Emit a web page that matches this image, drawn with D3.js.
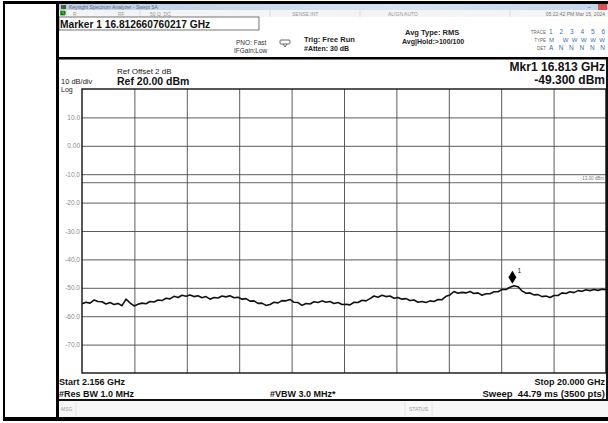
<!DOCTYPE html>
<html><head><meta charset="utf-8">
<script src="https://cdn.jsdelivr.net/npm/d3@7"></script>
<style>
html,body{margin:0;padding:0;background:#fff;}
svg{display:block;font-family:"Liberation Sans",Arial,sans-serif;}
text{white-space:pre;}
</style></head>
<body>
<svg id="c" width="608" height="423"></svg>
<script>
// ---- data ----
const startGHz = 2.156;
const stopGHz = 20.0;
const refLevel = 20;
const bottomLevel = -80;
const yTickValues = [10, 0, -10, -20, -30, -40, -50, -60, -70];
const yTickLabels = ["10.0", "0.00", "-10.0", "-20.0", "-30.0", "-40.0", "-50.0", "-60.0", "-70.0"];
const displayLine = -13;
const markerFreq = 16.813;
const markerLevel = -49.3;
// trace levels (dBm), evenly spaced across the sweep
const traceLevels = [
-55.6,-55.1,-55.4,-54.3,-54.8,-54.9,-55.7,-55.2,-55.9,-55.5,
-56.3,-54.0,-55.3,-56.4,-55.8,-55.4,-55.6,-54.8,-55.0,-54.3,
-54.5,-53.7,-53.9,-53.0,-53.4,-52.6,-53.0,-52.5,-53.1,-52.8,
-53.5,-53.1,-54.0,-53.4,-53.6,-52.9,-53.2,-52.8,-53.5,-53.3,
-54.0,-53.8,-54.7,-54.6,-55.5,-55.4,-56.2,-55.9,-55.1,-55.3,
-54.5,-54.6,-54.1,-55.1,-55.2,-56.2,-55.5,-55.7,-54.9,-55.2,
-54.6,-55.1,-54.8,-55.5,-55.2,-55.9,-55.8,-56.0,-55.1,-55.2,
-54.4,-54.6,-53.8,-52.9,-53.3,-52.6,-53.1,-52.9,-53.7,-53.4,
-54.0,-53.8,-54.5,-54.3,-55.1,-54.8,-55.2,-54.6,-54.8,-54.1,
-54.2,-53.0,-52.5,-51.3,-51.9,-51.6,-51.8,-51.3,-52.0,-51.8,
-52.6,-52.1,-52.1,-51.4,-51.4,-50.6,-50.6,-49.8,-49.3,-49.6,
-51.1,-51.9,-51.8,-52.5,-52.4,-53.1,-52.9,-53.4,-52.7,-52.7,
-51.8,-52.0,-51.4,-51.7,-51.0,-51.2,-50.7,-51.0,-50.6,-50.9,
-50.5,-50.7
];

// ---- layout ----
const svg = d3.select("#c");
const P = {l: 82, r: 606, t: 89, b: 373};
const x = d3.scaleLinear().domain([startGHz, stopGHz]).range([P.l, P.r]);
const y = d3.scaleLinear().domain([bottomLevel, refLevel]).range([P.b, P.t]);

svg.append("rect").attr("x",0).attr("y",0).attr("width",608).attr("height",423).attr("fill","#fff");
// title bar
const grad = svg.append("defs").append("linearGradient").attr("id","tb").attr("x1",0).attr("x2",1);
grad.append("stop").attr("offset","0%").attr("stop-color","#b9cde4");
grad.append("stop").attr("offset","60%").attr("stop-color","#d6e3f1");
grad.append("stop").attr("offset","100%").attr("stop-color","#c4d6ea");
svg.append("rect").attr("x",58).attr("y",4).attr("width",550).attr("height",6).attr("fill","url(#tb)");
svg.append("rect").attr("x",61).attr("y",5).attr("width",5).attr("height",4).attr("fill","#4a5e3a");
svg.append("text").attr("x",69).attr("y",9).attr("font-size",5).attr("fill","#667").text("Keysight Spectrum Analyzer - Swept SA");
svg.append("rect").attr("x",598).attr("y",4).attr("width",9).attr("height",6).attr("fill","#d9534f");
svg.append("text").attr("x",588).attr("y",9).attr("font-size",5).attr("fill","#556").text("–");
// status row
svg.append("rect").attr("x",58).attr("y",10).attr("width",550).attr("height",7).attr("fill","#f4f4f4");
svg.append("rect").attr("x",60).attr("y",10.5).attr("width",5).attr("height",5).attr("fill","#2db52d");
svg.append("text").attr("x",61).attr("y",15).attr("font-size",4.5).attr("fill","#000").text("LX");
const statusTexts = [[73,"R"],[118,"RF"],[150,"50 Ω  DC"],[292,"SENSE:INT"],[388,"ALIGN AUTO"]];
statusTexts.forEach(d=>svg.append("text").attr("x",d[0]).attr("y",15.5).attr("font-size",5).attr("fill","#999").text(d[1]));
svg.append("text").attr("x",605).attr("y",15.5).attr("font-size",5).attr("fill","#777").attr("text-anchor","end").text("05:22:42 PM Mar 15, 2024");
[[140],[170],[270],[360],[510]].forEach(d=>svg.append("line").attr("x1",d[0]).attr("x2",d[0]).attr("y1",10).attr("y2",17).attr("stroke","#ccc").attr("stroke-width",0.6));

// marker box
svg.append("rect").attr("x",59).attr("y",17).attr("width",200).attr("height",13).attr("fill","#fff").attr("stroke","#555").attr("stroke-width",0.8);
svg.append("text").attr("x",60).attr("y",27.5).attr("font-size",10.2).attr("font-weight","bold").attr("fill","#111").text("Marker 1 16.812660760217 GHz");

// settings
const small = (xx,yy,t,fs,fw,anchor,col)=>svg.append("text").attr("x",xx).attr("y",yy).attr("font-size",fs).attr("font-weight",fw||"normal").attr("text-anchor",anchor||"start").attr("fill",col||"#222").text(t);
small(236,45,"PNO: Fast",6.5,"normal","start","#333");
small(234,53,"IFGain:Low",6.5,"normal","start","#333");
svg.append("rect").attr("x",280).attr("y",40).attr("width",10).attr("height",4).attr("fill","none").attr("stroke","#444").attr("stroke-width",0.8).attr("rx",1);
svg.append("path").attr("d","M283,44 L285,47 L287,44").attr("fill","none").attr("stroke","#444").attr("stroke-width",0.8);
small(304,42,"Trig: Free Run",7.5,"bold","start","#222");
small(304,51,"#Atten: 30 dB",7,"bold","start","#222");
small(405,35,"Avg Type: RMS",7.5,"bold","start","#222");
small(402,44,"Avg|Hold:>100/100",7,"bold","start","#222");
small(546,34,"TRACE",4.5,"normal","end","#666");
small(546,42,"TYPE",4.5,"normal","end","#666");
small(546,50,"DET",4.5,"normal","end","#666");
small(549,34,"1 2 3 4 5 6",6.5,"normal","start","#3a6fb0").attr("textLength",56);
small(549,42,"M WWWWW",6,"normal","start","#3a6fb0").attr("textLength",56);
small(549,50,"A N N N N N",6.5,"normal","start","#3a6fb0").attr("textLength",56);

// separator
svg.append("rect").attr("x",58).attr("y",57).attr("width",550).attr("height",2.5).attr("fill","#000");

// marker readout
small(605,71,"Mkr1 16.813 GHz",12,"bold","end","#111");
small(605,84,"-49.300 dBm",12,"bold","end","#111");
// ref
small(117,74,"Ref Offset 2 dB",8,"normal","start","#222");
small(117,85,"Ref 20.00 dBm",10.5,"bold","start","#111");
small(61,83.5,"10 dB/div",7.5,"normal","start","#222");
small(61,92,"Log",7,"normal","start","#222");

// ---- plot ----
const g = svg.append("g");
g.append("rect").attr("x",P.l).attr("y",P.t).attr("width",P.r-P.l).attr("height",P.b-P.t).attr("fill","#fff");

// horizontal grid + y labels
const yAxis = d3.axisLeft(y).tickValues(yTickValues).tickSize(-(P.r-P.l)).tickPadding(2)
  .tickFormat((d,i)=>yTickLabels[i]);
const ya = g.append("g").attr("transform",`translate(${P.l},0)`).call(yAxis);
ya.select(".domain").remove();
ya.selectAll(".tick line").attr("stroke","#4a4a4a").attr("stroke-width",0.9);
ya.selectAll(".tick text").attr("font-size",6.5).attr("fill","#8a8a8a").attr("font-family","'Liberation Sans',Arial,sans-serif");

// vertical grid
const xDivs = d3.range(1,10).map(i=>startGHz + i*(stopGHz-startGHz)/10);
const xAxis = d3.axisBottom(x).tickValues(xDivs).tickSize(-(P.b-P.t)).tickFormat("");
const xa = g.append("g").attr("transform",`translate(0,${P.b})`).call(xAxis);
xa.select(".domain").remove();
xa.selectAll(".tick line").attr("stroke","#4a4a4a").attr("stroke-width",0.9);

// display line
g.append("line").attr("x1",P.l).attr("x2",P.r).attr("y1",y(displayLine)).attr("y2",y(displayLine)).attr("stroke","#555").attr("stroke-width",0.9);
small(P.r-2, y(displayLine)-2.5, "-13.00 dBm", 4.5, "normal","end","#777");

// border
g.append("rect").attr("x",P.l).attr("y",P.t).attr("width",P.r-P.l).attr("height",P.b-P.t).attr("fill","none").attr("stroke","#111").attr("stroke-width",1.4);

// trace
const n = traceLevels.length;
const freqs = traceLevels.map((_,i)=>startGHz + i*(stopGHz-startGHz)/(n-1));
const line = d3.line().x((d,i)=>x(freqs[i])).y(d=>y(d));
g.append("path").datum(traceLevels).attr("d",line).attr("fill","none").attr("stroke","#111").attr("stroke-width",1.6).attr("stroke-linejoin","round");

// marker
const mx = x(markerFreq), my = y(markerLevel);
g.append("path").attr("d",`M${mx},${my-15} L${mx+4},${my-8.5} L${mx},${my-2} L${mx-4},${my-8.5} Z`).attr("fill","#000");
small(mx+5, my-13, "1", 6.5, "normal","start","#111");

// ---- footer ----
small(59,385,"Start 2.156 GHz",9,"bold","start","#111");
small(605,385,"Stop 20.000 GHz",9,"bold","end","#111");
small(59,397,"#Res BW 1.0 MHz",9,"bold","start","#111");
small(270,397,"#VBW 3.0 MHz*",9,"bold","start","#111");
small(605,397,"Sweep  44.79 ms (3500 pts)",9.5,"bold","end","#111");
svg.append("rect").attr("x",58).attr("y",399).attr("width",550).attr("height",2).attr("fill","#111");
svg.append("rect").attr("x",58).attr("y",401).attr("width",550).attr("height",16).attr("fill","#f7f7f7");
small(61,411,"MSG",5,"normal","start","#999");
small(409,411,"STATUS",5,"normal","start","#999");
[[76],[405],[432]].forEach(d=>svg.append("line").attr("x1",d[0]).attr("x2",d[0]).attr("y1",402).attr("y2",416).attr("stroke","#ddd").attr("stroke-width",0.7));

// right border of screenshot
svg.append("rect").attr("x",606).attr("y",59).attr("width",2).attr("height",341).attr("fill","#111");

// outer frame lines
svg.append("rect").attr("x",3).attr("y",1).attr("width",605).attr("height",3).attr("fill","#000");
svg.append("rect").attr("x",3).attr("y",417).attr("width",605).attr("height",4).attr("fill","#000");
svg.append("rect").attr("x",3).attr("y",1).attr("width",2).attr("height",420).attr("fill","#000");
svg.append("rect").attr("x",56).attr("y",1).attr("width",3).attr("height",420).attr("fill","#000");
</script>
</body></html>
